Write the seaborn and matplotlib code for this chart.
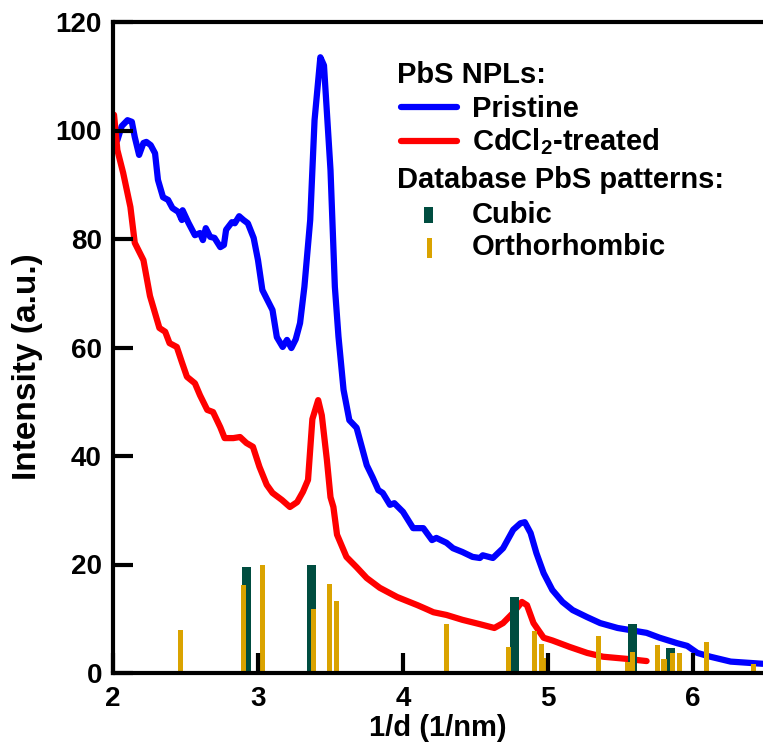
import matplotlib
matplotlib.use("Agg")
import numpy as np
import pandas as pd
import seaborn as sns
import matplotlib.pyplot as plt
from matplotlib import font_manager
from matplotlib.lines import Line2D
from matplotlib.patches import Rectangle

# ---------------- data ----------------
pristine_x = [2.007, 2.03, 2.06, 2.10, 2.13, 2.15, 2.18, 2.21, 2.23, 2.26, 2.29, 2.31,
              2.345, 2.38, 2.41, 2.45, 2.475, 2.48, 2.52, 2.565, 2.60, 2.62, 2.64, 2.67,
              2.70, 2.74, 2.765, 2.78, 2.82, 2.84, 2.87, 2.90, 2.93, 2.97, 3.00, 3.03,
              3.10, 3.13, 3.17, 3.20, 3.23, 3.26, 3.29, 3.32, 3.36, 3.39, 3.43, 3.455,
              3.50, 3.53, 3.555, 3.59, 3.63, 3.68, 3.75, 3.79, 3.83, 3.86, 3.91, 3.94,
              4.00, 4.07, 4.14, 4.20, 4.23, 4.30, 4.345, 4.41, 4.48, 4.53, 4.55, 4.62,
              4.69, 4.76, 4.81, 4.84, 4.88, 4.92, 4.97, 5.03, 5.10, 5.17, 5.27, 5.36,
              5.48, 5.57, 5.68, 5.77, 5.89, 5.96, 6.03, 6.12, 6.26, 6.48]
pristine_y = [100.1, 98.2, 100.8, 101.9, 101.6, 98.8, 95.5, 97.7, 97.9, 97.3, 95.8, 90.9,
              87.7, 87.2, 85.7, 85.0, 83.5, 85.3, 83.0, 80.7, 81.1, 79.8, 82.0, 80.4,
              80.2, 78.5, 78.9, 81.7, 83.1, 82.9, 84.2, 83.5, 82.9, 80.2, 76.1, 70.6,
              66.9, 61.9, 60.1, 61.4, 59.9, 61.5, 64.5, 71.2, 83.5, 101.9, 113.5, 112.0,
              92.7, 71.2, 62.0, 52.2, 46.6, 45.2, 38.3, 36.1, 33.7, 33.2, 31.0, 31.3,
              29.7, 26.7, 26.7, 24.5, 24.9, 24.0, 23.0, 22.3, 21.4, 21.2, 21.7, 21.2,
              23.0, 26.4, 27.6, 27.8, 25.8, 22.1, 18.4, 15.3, 13.1, 11.6, 10.3, 9.2,
              8.3, 7.9, 7.4, 6.5, 5.5, 5.0, 3.7, 3.0, 2.1, 1.7]

treated_x = [2.007, 2.03, 2.07, 2.12, 2.15, 2.21, 2.255, 2.32, 2.36, 2.39, 2.44, 2.475,
             2.51, 2.565, 2.60, 2.65, 2.69, 2.74, 2.77, 2.83, 2.876, 2.92, 2.965, 3.01,
             3.06, 3.10, 3.165, 3.22, 3.27, 3.31, 3.345, 3.375, 3.415, 3.44, 3.475, 3.50,
             3.52, 3.545, 3.61, 3.68, 3.75, 3.84, 3.96, 4.10, 4.16, 4.21, 4.30, 4.41,
             4.53, 4.63, 4.69, 4.76, 4.82, 4.855, 4.90, 4.97, 5.03, 5.15, 5.27, 5.38,
             5.545, 5.68]
treated_y = [102.9, 96.4, 92.2, 85.9, 79.3, 76.1, 69.5, 63.6, 62.9, 60.8, 60.1, 57.3,
             54.6, 53.4, 51.2, 48.5, 48.1, 45.3, 43.3, 43.3, 43.5, 42.4, 41.7, 38.0,
             34.7, 33.2, 31.9, 30.6, 31.5, 33.4, 35.6, 46.8, 50.3, 47.5, 39.3, 32.4,
             30.6, 25.5, 21.4, 19.5, 17.5, 15.7, 14.0, 12.5, 11.8, 11.2, 10.7, 9.8,
             9.0, 8.3, 9.2, 11.1, 13.1, 12.5, 9.2, 6.5, 6.0, 4.8, 3.7, 3.0,
             2.6, 2.2]

cubic_pos = [2.92, 3.37, 4.77, 5.585, 5.845]
cubic_int = [19.5, 20.0, 14.0, 9.0, 4.6]

ortho_pos = [2.466, 2.90, 3.03, 3.38, 3.49, 3.54, 4.30, 4.73, 4.91, 4.955, 4.99,
             5.35, 5.55, 5.58, 5.755, 5.80, 5.86, 5.91, 6.09, 6.42]
ortho_int = [7.9, 16.2, 19.9, 11.8, 16.4, 13.3, 9.0, 4.8, 7.7, 5.3, 2.8,
             6.8, 2.0, 3.9, 5.2, 2.6, 3.7, 3.7, 5.7, 1.7]

x_ticks = [2, 3, 4, 5, 6]
y_ticks = [0, 20, 40, 60, 80, 100, 120]

series_labels = ["Pristine", r"CdCl$_{2}$-treated"]
pattern_labels = ["Cubic", "Orthorhombic"]
header1 = "PbS NPLs:"
header2 = "Database PbS patterns:"

BLUE = "#0000FF"
RED = "#FF0000"
GREEN = "#004D40"
GOLD = "#DAA300"

# ---------------- style ----------------
sns.set_theme(style="ticks")
names = {f.name for f in font_manager.fontManager.ttflist}
NARROW = "Liberation Sans Narrow" if "Liberation Sans Narrow" in names else "Liberation Sans"
plt.rcParams["font.family"] = ["Liberation Sans", "DejaVu Sans"]
plt.rcParams["font.weight"] = "bold"
plt.rcParams["text.color"] = "black"
plt.rcParams["axes.labelcolor"] = "black"
plt.rcParams["xtick.color"] = "black"
plt.rcParams["ytick.color"] = "black"
plt.rcParams["xtick.labelcolor"] = "black"
plt.rcParams["ytick.labelcolor"] = "black"
plt.rcParams["mathtext.fontset"] = "custom"
plt.rcParams["mathtext.rm"] = "Liberation Sans:bold"
plt.rcParams["mathtext.it"] = "Liberation Sans:bold"
plt.rcParams["mathtext.bf"] = "Liberation Sans:bold"

W, H = 763, 753
fig = plt.figure(figsize=(W / 100, H / 100), dpi=100)
ax = fig.add_axes([113 / W, 1 - 673 / H, (W - 113) / W, (673 - 22) / H])

df_p = pd.DataFrame({"x": pristine_x, "y": pristine_y})
df_t = pd.DataFrame({"x": treated_x, "y": treated_y})
sns.lineplot(data=df_p, x="x", y="y", ax=ax, color=BLUE, lw=4.5, sort=False,
             estimator=None, legend=False, zorder=2)
sns.lineplot(data=df_t, x="x", y="y", ax=ax, color=RED, lw=4.5, sort=False,
             estimator=None, legend=False, zorder=2.1)

ax.bar(cubic_pos, cubic_int, width=0.062, color=GREEN, linewidth=0, zorder=3)
ax.bar(ortho_pos, ortho_int, width=0.035, color=GOLD, linewidth=0, zorder=3.5)

ax.set_xlim(2, 2 + 650 / 145)
ax.set_ylim(0, 120)
ax.set_xticks(x_ticks)
ax.set_yticks(y_ticks)
ax.set_xticklabels([str(v) for v in x_ticks], fontfamily=NARROW, fontweight="bold",
                   fontsize=24 if NARROW != "Liberation Sans" else 20, color="black")
ax.set_yticklabels([str(v) for v in y_ticks], fontfamily="Liberation Sans",
                   fontweight="bold", fontsize=20, color="black")
ax.tick_params(axis="both", direction="in", length=14.5, width=3, color="black",
               top=False, right=False)
ax.tick_params(axis="x", pad=9)
ax.tick_params(axis="y", pad=8)
for side in ["left", "bottom", "top"]:
    ax.spines[side].set_linewidth(3)
    ax.spines[side].set_color("black")
    ax.spines[side].set_zorder(6)
ax.spines["right"].set_visible(False)
ax.xaxis.set_zorder(6)
ax.yaxis.set_zorder(6)

ax.set_xlabel("1/d (1/nm)", fontfamily=NARROW, fontweight="bold", color="black",
              fontsize=25 if NARROW != "Liberation Sans" else 21, labelpad=2)
ax.set_ylabel("Intensity (a.u.)", fontfamily="Liberation Sans", fontweight="bold",
              color="black", fontsize=24)
ax.yaxis.set_label_coords(-0.108, 0.47)

# ---------------- legend (figure pixel coordinates) ----------------
def fx(px):
    return px / W

def fy(py):
    return 1 - py / H

LFS = 21
fig.text(fx(397), fy(83), header1, fontsize=LFS, fontweight="bold", va="baseline",
         ha="left", color="black")
fig.add_artist(Line2D([fx(401), fx(457)], [fy(107), fy(107)], color=BLUE, lw=4.5,
                      transform=fig.transFigure))
fig.text(fx(472), fy(117), series_labels[0], fontsize=LFS, fontweight="bold",
         va="baseline", ha="left", color="black")
fig.add_artist(Line2D([fx(401), fx(457)], [fy(141), fy(141)], color=RED, lw=4.5,
                      transform=fig.transFigure))
fig.text(fx(472), fy(150), series_labels[1], fontsize=LFS, fontweight="bold",
         va="baseline", ha="left", color="black")
fig.text(fx(397), fy(188), header2, fontsize=LFS, fontweight="bold", va="baseline",
         ha="left", color="black")
fig.add_artist(Rectangle((fx(424), fy(223)), fx(9), 16 / H, color=GREEN,
                         transform=fig.transFigure, linewidth=0))
fig.text(fx(472), fy(223), pattern_labels[0], fontsize=LFS, fontweight="bold",
         va="baseline", ha="left", color="black")
fig.add_artist(Rectangle((fx(427), fy(258)), fx(5), 20 / H, color=GOLD,
                         transform=fig.transFigure, linewidth=0))
fig.text(fx(472), fy(255), pattern_labels[1], fontsize=LFS, fontweight="bold",
         va="baseline", ha="left", color="black")

fig.savefig("out.png", dpi=100)
